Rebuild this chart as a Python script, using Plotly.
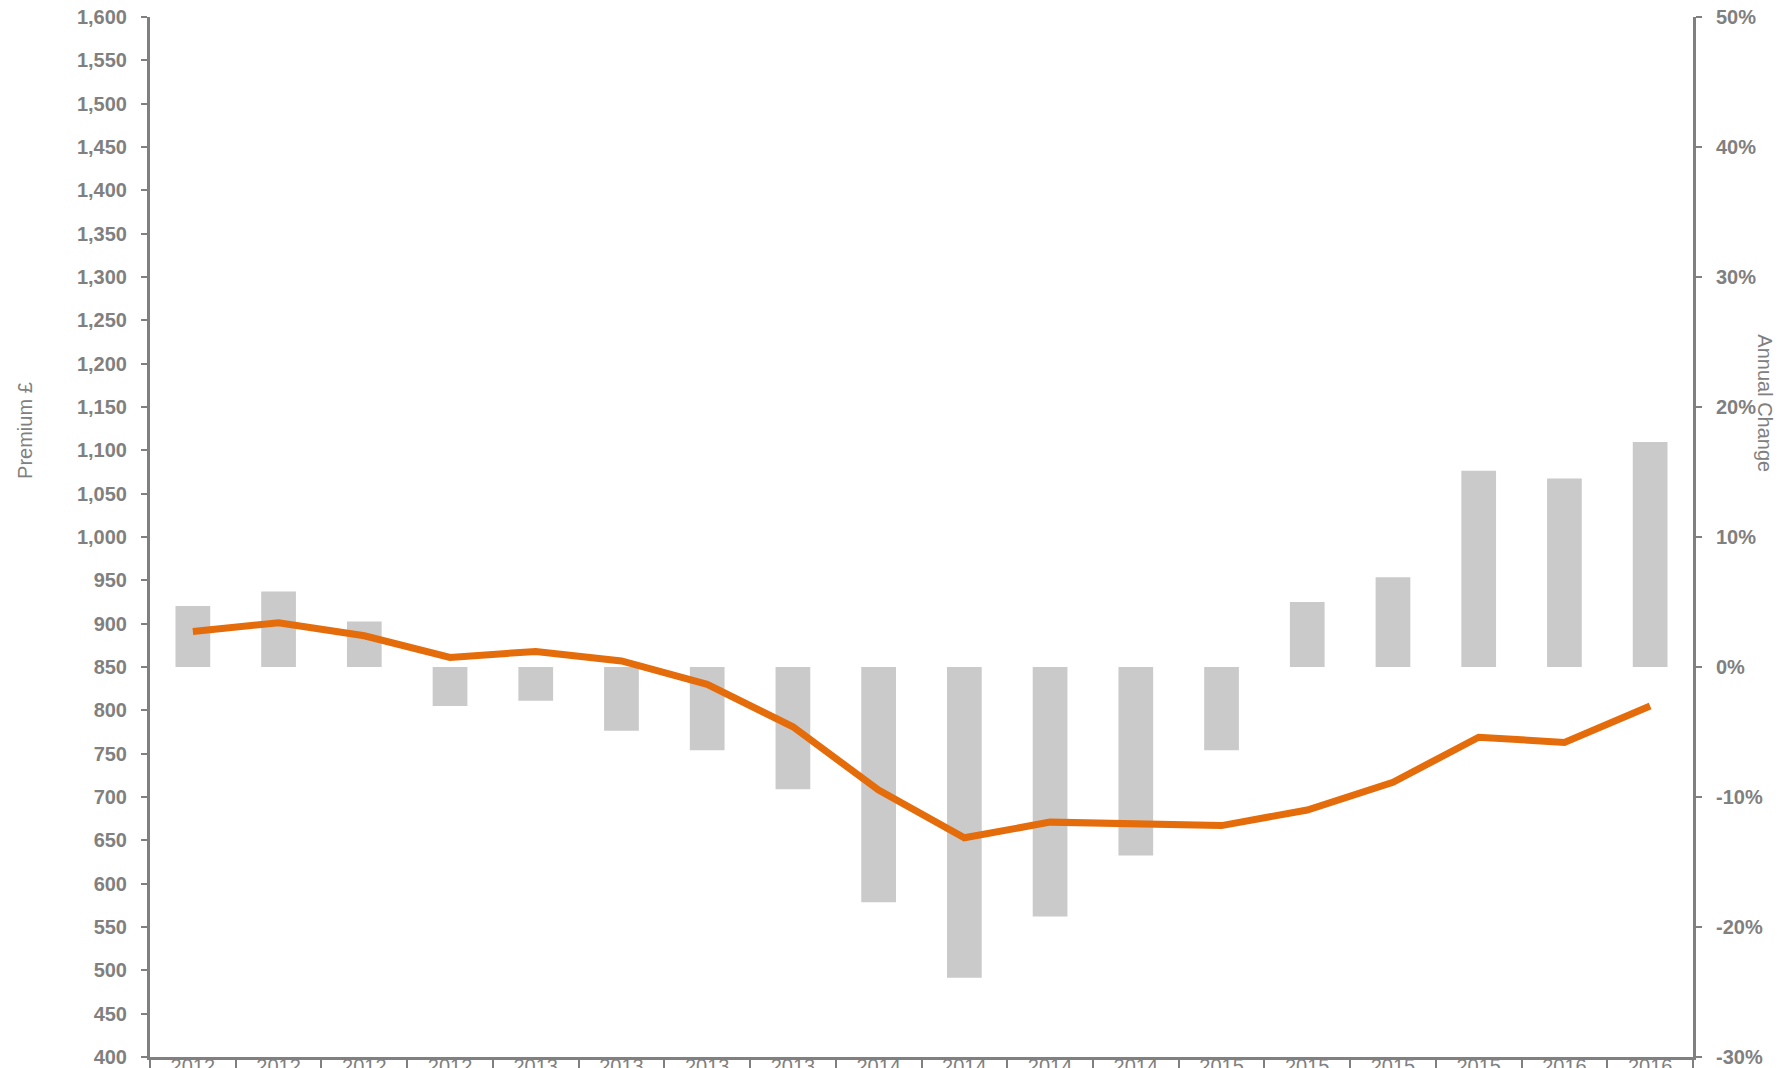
import plotly.graph_objects as go

quarters = ["2012 Q1", "2012 Q2", "2012 Q3", "2012 Q4",
            "2013 Q1", "2013 Q2", "2013 Q3", "2013 Q4",
            "2014 Q1", "2014 Q2", "2014 Q3", "2014 Q4",
            "2015 Q1", "2015 Q2", "2015 Q3", "2015 Q4",
            "2016 Q1", "2016 Q2"]
tick_labels = [q.replace(" ", "<br>") for q in quarters]

premium = [891, 901, 886, 861, 868, 857, 830, 781, 708,
           653, 671, 669, 667, 685, 717, 769, 763, 805]
annual_change = [0.047, 0.058, 0.035, -0.030, -0.026, -0.049, -0.064, -0.094, -0.181,
                 -0.239, -0.192, -0.145, -0.064, 0.050, 0.069, 0.151, 0.145, 0.173]

pct_ticks = [-0.3, -0.2, -0.1, 0.0, 0.1, 0.2, 0.3, 0.4, 0.5]
pct_labels = ["-30%", "-20%", "-10%", "0%", "10%", "20%", "30%", "40%", "50%"]

GRAY = "#808080"
FONT = "Arial, 'Liberation Sans', sans-serif"

fig = go.Figure()
fig.add_trace(go.Bar(x=quarters, y=annual_change, marker=dict(color="#CACACA", line=dict(width=0)),
                     width=0.405, yaxis="y", name="Annual Change"))
fig.add_trace(go.Scatter(x=quarters, y=premium, mode="lines", yaxis="y2",
                         line=dict(color="#E46C0A", width=7), name="Premium £"))

fig.update_layout(
    width=1786, height=1068,
    margin=dict(l=150, r=93, t=17, b=11, autoexpand=False),
    paper_bgcolor="white", plot_bgcolor="white",
    showlegend=False,
    font=dict(family=FONT, color=GRAY),
    xaxis=dict(type="category", tickmode="array", tickvals=quarters, ticktext=tick_labels,
               tickson="boundaries", ticks="outside", ticklen=14, tickwidth=1.5, tickcolor=GRAY,
               showline=True, linecolor=GRAY, linewidth=3, showgrid=False, automargin=False,
               tickfont=dict(size=20, color=GRAY, family=FONT), ticklabelstandoff=-11,
               range=[-0.5, 17.5]),
    yaxis=dict(side="right", range=[-0.3, 0.5], tickmode="array", tickvals=pct_ticks,
               ticktext=pct_labels,
               showline=True, linecolor=GRAY, linewidth=3, ticks="outside", ticklen=6,
               tickwidth=2, tickcolor=GRAY, showgrid=False, zeroline=False, automargin=False,
               tickfont=dict(size=20, color=GRAY, family=FONT, weight="bold"),
               ticklabelstandoff=10),
    yaxis2=dict(side="left", overlaying="y", range=[400, 1600], dtick=50, tick0=400,
                tickformat=",", showline=True, linecolor=GRAY, linewidth=3, ticks="outside",
                ticklen=6, tickwidth=2, tickcolor=GRAY, showgrid=False, zeroline=False,
                automargin=False,
                tickfont=dict(size=20, color=GRAY, family=FONT, weight="bold"),
                ticklabelstandoff=10),
    annotations=[
        dict(text="Premium £", xref="paper", yref="paper", x=-0.081, y=0.602,
             xanchor="center", yanchor="middle", textangle=-90, showarrow=False,
             font=dict(size=20, color=GRAY, family=FONT)),
        dict(text="Annual Change", xref="paper", yref="paper", x=1.047, y=0.629,
             xanchor="center", yanchor="middle", textangle=90, showarrow=False,
             font=dict(size=20, color=GRAY, family=FONT)),
    ],
)

fig.write_html("out.html")
